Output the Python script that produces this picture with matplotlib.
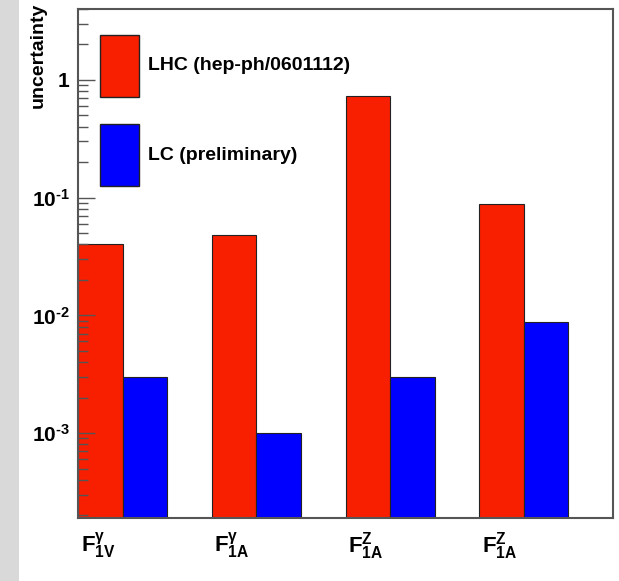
import matplotlib
matplotlib.use("Agg")
import matplotlib.pyplot as plt
from matplotlib.patches import Rectangle
from matplotlib.ticker import LogLocator, FixedLocator, NullFormatter
import numpy as np

plt.rcParams['font.family'] = ['Liberation Sans', 'DejaVu Sans']
plt.rcParams['mathtext.fontset'] = 'custom'
plt.rcParams['mathtext.rm'] = 'Liberation Sans:bold'
plt.rcParams['mathtext.bf'] = 'Liberation Sans:bold'
plt.rcParams['mathtext.it'] = 'Liberation Sans:bold:italic'

categories = [r'$\mathbf{F^{\gamma}_{1V}}$', r'$\mathbf{F^{\gamma}_{1A}}$',
              r'$\mathbf{F^{Z}_{1A}}$', r'$\mathbf{F^{Z}_{1A}}$']
lhc = [0.040, 0.048, 0.73, 0.089]
lc = [0.003, 0.001, 0.003, 0.0087]
series_names = ['LHC (hep-ph/0601112)', 'LC (preliminary)']
ytick_vals = [1e-3, 1e-2, 1e-1, 1]
ytick_labels = [r'$\mathbf{10^{\text{-}3}}$', r'$\mathbf{10^{\text{-}2}}$',
                r'$\mathbf{10^{\text{-}1}}$', r'$\mathbf{1}$']

red = '#f81e00'
blue = '#0000ff'

fig = plt.figure(figsize=(6.19, 5.81), dpi=100)
fig.patches.append(Rectangle((0, 0), 19/619, 1, transform=fig.transFigure,
                             facecolor='#d9d9d9', edgecolor='none', zorder=0))
ax = fig.add_axes([78/619, 63/581, 535/619, 509/581])

x = np.arange(len(categories)) * 3
ax.bar(x + 0.5, lhc, width=1.0, color=red, edgecolor='#222222', linewidth=0.8, zorder=1)
ax.bar(x + 1.5, lc, width=1.0, color=blue, edgecolor='#222222', linewidth=0.8, zorder=1)

ax.set_yscale('log')
ax.set_ylim(1.9e-4, 4.0)
ax.set_xlim(0, 12)

ax.yaxis.set_major_locator(FixedLocator(ytick_vals))
ax.set_yticklabels(ytick_labels, fontsize=15)
ax.yaxis.set_minor_locator(LogLocator(base=10, subs=np.arange(2, 10)))
ax.yaxis.set_minor_formatter(NullFormatter())
ax.tick_params(axis='y', which='major', direction='in', length=12, width=1.0,
               color='#555555', pad=6)
ax.tick_params(axis='y', which='minor', direction='in', length=7, width=1.0,
               color='#555555')

ax.set_xticks(x + 0.45)
ax.set_xticklabels(categories, fontsize=16)
ax.tick_params(axis='x', which='both', length=0, pad=9)

for s in ax.spines.values():
    s.set_color('#555555')
    s.set_linewidth(1.5)
    s.set_zorder(3)

ax.set_axisbelow(False)

fig.text(38/619, 1 - 3/581, 'uncertainty', rotation=90, ha='center', va='top',
         fontsize=14, fontweight='bold')

# legend
for i, (name, col) in enumerate(zip(series_names, [red, blue])):
    y0 = 35 + i * 89
    fig.patches.append(Rectangle((100/619, 1 - (y0 + 62)/581), 39/619, 62/581,
                                 transform=fig.transFigure, facecolor=col,
                                 edgecolor='#222222', linewidth=1.0, zorder=5))
    fig.text(148/619, 1 - (y0 + 31)/581, name, ha='left', va='center',
             fontsize=14, fontweight='bold', zorder=6)

fig.savefig('out.png', dpi=100)
